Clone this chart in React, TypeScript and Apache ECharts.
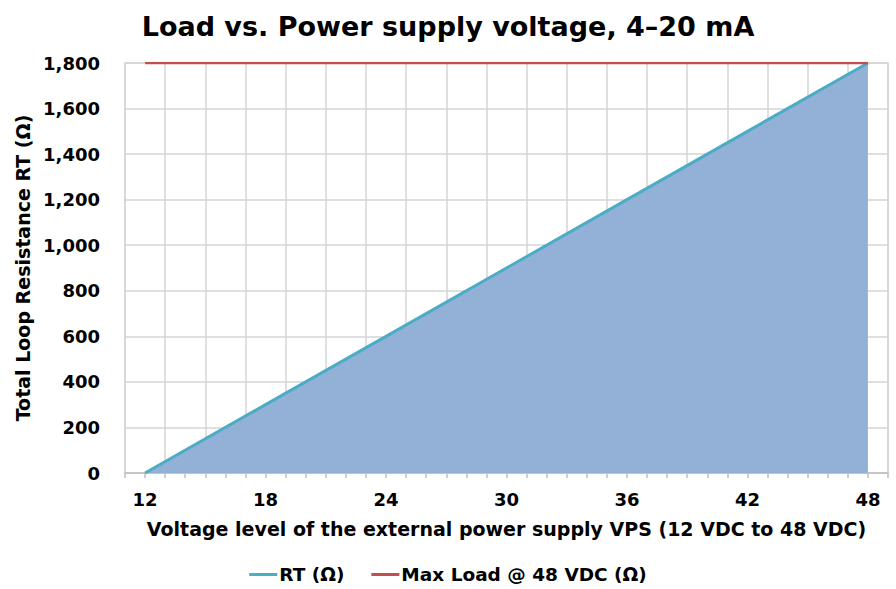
import React, { useEffect, useRef } from "react";
import * as echarts from "echarts";

const titleText = "Load vs. Power supply voltage, 4–20 mA";
const xAxisTitle = "Voltage level of the external power supply VPS (12 VDC to 48 VDC)";
const yAxisTitle = "Total Loop Resistance RT (Ω)";

const voltage = [12, 18, 24, 30, 36, 42, 48];
const rtValues = [0, 300, 600, 900, 1200, 1500, 1800];
const maxLoadVoltage = [12, 48];
const maxLoadValues = [1800, 1800];
const xLabelTicks = [12, 18, 24, 30, 36, 42, 48];

const FONT = "'DejaVu Sans', 'Liberation Sans', Arial, sans-serif";

export default function App() {
  const ref = useRef<HTMLDivElement>(null);
  useEffect(() => {
    if (!ref.current) return;
    const chart = echarts.init(ref.current, undefined, { renderer: "svg" });
    chart.setOption({
      animation: false,
      backgroundColor: "#ffffff",
      title: {
        text: titleText,
        left: "center",
        top: 8,
        textStyle: { fontFamily: FONT, fontWeight: "bold", fontSize: 27, color: "#000" },
      },
      legend: {
        bottom: 0,
        left: "center",
        itemWidth: 28,
        itemHeight: 3,
        itemGap: 27,
        icon: "rect",
        textStyle: {
          fontFamily: FONT,
          fontSize: 18.5,
          color: "#000",
          fontWeight: "bold",
          padding: [0, 0, 0, -3],
        },
        data: ["RT (Ω)", "Max Load @ 48 VDC (Ω)"],
      },
      grid: {
        left: 125,
        right: 8,
        top: 63,
        bottom: 116,
        show: true,
        borderColor: "#d9d9d9",
        borderWidth: 1.5,
      },
      xAxis: [
        {
          type: "value",
          min: 11,
          max: 49,
          interval: 1,
          name: xAxisTitle,
          nameLocation: "middle",
          nameGap: 46,
          nameTextStyle: { fontFamily: FONT, fontWeight: "bold", fontSize: 19, color: "#000" },
          axisLine: { show: true, lineStyle: { color: "#bfbfbf", width: 1.5 } },
          axisTick: { show: true, length: 5, lineStyle: { color: "#bfbfbf", width: 1.5 } },
          axisLabel: {
            fontFamily: FONT,
            fontWeight: "bold",
            fontSize: 18,
            color: "#000",
            margin: 17,
            formatter: (v: number) => (xLabelTicks.includes(v) ? String(v) : ""),
          },
          splitLine: { show: false },
        },
        {
          type: "value",
          min: 11,
          max: 49,
          interval: 2,
          position: "bottom",
          axisLine: { show: false },
          axisTick: { show: false },
          axisLabel: { show: false },
          splitLine: { show: true, lineStyle: { color: "#d4d4d4", width: 1.5 } },
        },
      ],
      yAxis: {
        type: "value",
        min: 0,
        max: 1800,
        interval: 200,
        name: yAxisTitle,
        nameLocation: "middle",
        nameGap: 90,
        nameTextStyle: { fontFamily: FONT, fontWeight: "bold", fontSize: 19, color: "#000" },
        axisLine: { show: false },
        axisTick: { show: false },
        axisLabel: {
          fontFamily: FONT,
          fontWeight: "bold",
          fontSize: 18,
          color: "#000",
          margin: 25,
          formatter: (v: number) => v.toLocaleString("en-US"),
        },
        splitLine: { show: true, lineStyle: { color: "#d4d4d4", width: 1.5 } },
      },
      series: [
        {
          name: "RT (Ω)",
          type: "line",
          xAxisIndex: 0,
          data: voltage.map((v, i) => [v, rtValues[i]]),
          showSymbol: false,
          symbol: "none",
          lineStyle: { color: "#4bacc6", width: 3 },
          itemStyle: { color: "#4bacc6" },
          areaStyle: { color: "#93b1d7", opacity: 1 },
          z: 3,
        },
        {
          name: "Max Load @ 48 VDC (Ω)",
          type: "line",
          xAxisIndex: 0,
          data: maxLoadVoltage.map((v, i) => [v, maxLoadValues[i]]),
          showSymbol: false,
          symbol: "none",
          lineStyle: { color: "#c0504d", width: 2.5 },
          itemStyle: { color: "#c0504d" },
          z: 4,
        },
      ],
    });
    return () => chart.dispose();
  }, []);
  return (
    <div
      ref={ref}
      style={{ position: "absolute", left: 0, top: 0, width: 896, height: 589 }}
    />
  );
}
